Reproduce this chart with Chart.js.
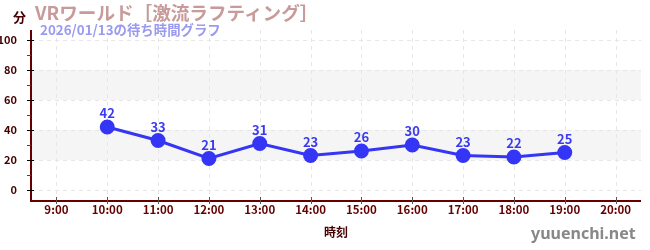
<!DOCTYPE html>
<html><head><meta charset="utf-8">
<script src="https://cdn.jsdelivr.net/npm/chart.js@4/dist/chart.umd.min.js"></script>
<style>
html,body{margin:0;padding:0;background:#fff;}
#wrap{position:relative;width:650px;height:250px;font-family:"Noto Sans CJK JP","Noto Sans",sans-serif;}
canvas{position:absolute;left:0;top:0;}
.t{position:absolute;white-space:nowrap;font-weight:bold;line-height:1;}
</style></head><body>
<div id="wrap">
<canvas id="c" width="650" height="250"></canvas>
<div class="t" style="left:35px;top:3px;font-size:18.6px;color:#c89a9a;">VRワールド［激流ラフティング］</div>
<div class="t" style="left:40px;top:23px;font-size:13.4px;color:#9a9af0;">2026/01/13の待ち時間グラフ</div>
<div class="t" style="left:13px;top:10px;font-size:13px;color:#400;">分</div>
<div class="t" style="left:531px;top:225px;font-size:16px;color:#888;font-weight:bold;font-family:'Noto Sans',sans-serif;">yuuenchi.net</div>
</div>
<script>
const categories = ["9:00","10:00","11:00","12:00","13:00","14:00","15:00","16:00","17:00","18:00","19:00","20:00"];
const waitTimes = [null,42,33,21,31,23,26,30,23,22,25,null];
const yTicks = [0,20,40,60,80,100];
const yMinorTicks = [10,30,50,70,90];
const bands = [[20,40],[60,80]];

const extras = {
  id:'extras',
  beforeDatasetsDraw(chart){
    const {ctx, chartArea:a, scales:{y}} = chart;
    ctx.save();
    ctx.fillStyle = '#f5f5f5';
    bands.forEach(([lo,hi])=>{
      const t = y.getPixelForValue(hi), b = y.getPixelForValue(lo);
      ctx.fillRect(a.left, t, a.right-a.left, b-t);
    });
    ctx.strokeStyle = '#e6e6e6';
    ctx.setLineDash([4,4]);
    ctx.lineWidth = 1;
    yTicks.forEach(v=>{
      const p = Math.round(y.getPixelForValue(v))+0.5;
      ctx.beginPath(); ctx.moveTo(a.left,p); ctx.lineTo(a.right,p); ctx.stroke();
    });
    const x = chart.scales.x;
    categories.forEach((c,i)=>{
      const p = Math.round(x.getPixelForValue(i))+0.5;
      ctx.beginPath(); ctx.moveTo(p,a.top); ctx.lineTo(p,a.bottom); ctx.stroke();
    });
    ctx.setLineDash([]);
    ctx.strokeStyle = '#600';
    ctx.lineWidth = 2;
    ctx.beginPath(); ctx.moveTo(a.left, a.top); ctx.lineTo(a.left, a.bottom+1); ctx.lineTo(a.right, a.bottom+1); ctx.stroke();
    ctx.restore();
  },
  afterDraw(chart){
    const {ctx, chartArea:a, scales:{y,x}} = chart;
    ctx.save();
    ctx.strokeStyle = '#e00';
    ctx.lineWidth = 1;
    yMinorTicks.forEach(v=>{
      const p = Math.round(y.getPixelForValue(v))+0.5;
      ctx.beginPath(); ctx.moveTo(a.left-4,p); ctx.lineTo(a.left,p); ctx.stroke();
    });
    ctx.strokeStyle = '#000';
    yTicks.forEach(v=>{
      const p = Math.round(y.getPixelForValue(v))+0.5;
      ctx.beginPath(); ctx.moveTo(a.left-4,p); ctx.lineTo(a.left+3,p); ctx.stroke();
    });
    ctx.strokeStyle = '#555';
    categories.forEach((c,i)=>{
      const p = Math.round(x.getPixelForValue(i))+0.5;
      ctx.beginPath(); ctx.moveTo(p,a.bottom-3); ctx.lineTo(p,a.bottom+4); ctx.stroke();
    });
    const meta = chart.getDatasetMeta(0);
    ctx.fillStyle = '#3a3af0';
    ctx.font = 'bold 13px "Noto Sans CJK JP","Noto Sans",sans-serif';
    ctx.textAlign = 'center';
    ctx.textBaseline = 'bottom';
    meta.data.forEach((pt,i)=>{
      const v = waitTimes[i];
      if (v===null || v===undefined) return;
      ctx.fillText(String(v), pt.x, pt.y-7);
    });
    ctx.restore();
  }
};

new Chart(document.getElementById('c'), {
  type:'line',
  data:{labels:categories, datasets:[{
    data:waitTimes,
    borderColor:'#3535f5', backgroundColor:'#3535f5',
    borderWidth:3, pointRadius:6, pointHoverRadius:6,
    spanGaps:false, tension:0
  }]},
  options:{
    responsive:false, animation:false, devicePixelRatio:1,
    layout:{padding:{top:30,right:9,left:0,bottom:10}},
    plugins:{legend:{display:false}, tooltip:{enabled:false}},
    scales:{
      x:{
        offset:true,
        grid:{display:false},
        border:{display:false},
        ticks:{color:'#600', font:{size:11.5, weight:'bold', family:'"Noto Sans CJK JP","Noto Sans",sans-serif'}, padding:-5, maxRotation:0, autoSkip:false},
        title:{display:true, text:'時刻', color:'#400', font:{size:12, weight:'bold', family:'"Noto Sans CJK JP",sans-serif'}, padding:{top:2,bottom:0}},
        afterFit(s){ s.height = 40; }
      },
      y:{
        min:-20/3, max:320/3,
        afterBuildTicks(s){ s.ticks = yTicks.map(v=>({value:v})); },
        grid:{display:false},
        border:{display:false},
        ticks:{color:'#400', font:{size:11, weight:'bold', family:'"Noto Sans CJK JP","Noto Sans",sans-serif'}, padding:6},
        afterFit(s){ s.width = 31; }
      }
    }
  },
  plugins:[extras]
});
</script>
</body></html>
